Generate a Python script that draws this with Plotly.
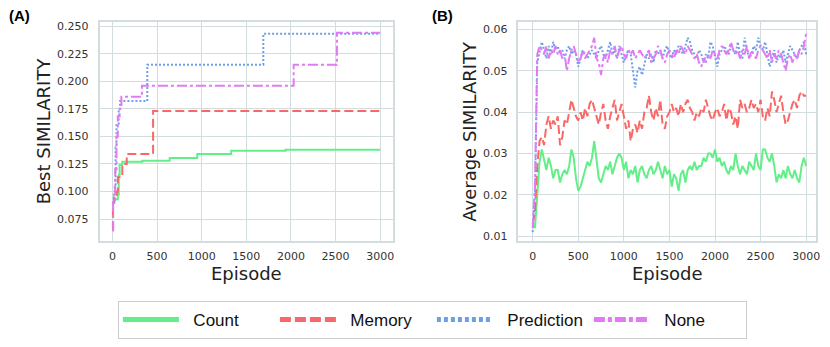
import plotly.graph_objects as go

# ---------------------------------------------------------------------------
# Data
# ---------------------------------------------------------------------------
SERIES = ["Count", "Memory", "Prediction", "None"]
COLORS = {"Count": "#63ef88", "Memory": "#f96866", "Prediction": "#6f9ee8", "None": "#e27af5"}
DASHES = {"Count": "solid", "Memory": "9px,4px", "Prediction": "2px,2px", "None": "10px,3px,3px,3px"}

# (A) best similarity so far (step curves)
best_count_x = [5, 20, 60, 70, 80, 110, 335, 641, 950, 1330, 1938, 3000]
best_count_y = [0.090, 0.093, 0.097, 0.115, 0.124, 0.127, 0.128, 0.1305, 0.134, 0.137, 0.138, 0.138]
best_memory_x = [0, 5, 20, 50, 60, 110, 160, 455, 3000]
best_memory_y = [0.065, 0.090, 0.095, 0.100, 0.113, 0.125, 0.134, 0.173, 0.173]
best_pred_x = [5, 15, 25, 35, 45, 70, 85, 390, 1690, 3000]
best_pred_y = [0.090, 0.097, 0.105, 0.140, 0.160, 0.175, 0.182, 0.215, 0.243, 0.243]
best_none_x = [0, 8, 30, 45, 60, 80, 100, 330, 2030, 2515, 3000]
best_none_y = [0.065, 0.090, 0.120, 0.150, 0.168, 0.175, 0.186, 0.196, 0.215, 0.244, 0.244]

# (B) average similarity, sampled every 25 episodes
episodes = list(range(0, 3001, 25))
avg_count = [
    0.013, 0.012, 0.020, 0.028, 0.031, 0.028, 0.026, 0.029, 0.027, 0.024, 0.026, 0.026, 0.023, 0.025, 0.026, 0.025,
    0.027, 0.031, 0.029, 0.024, 0.021, 0.022, 0.024, 0.026, 0.028, 0.027, 0.029, 0.033, 0.028, 0.024, 0.023, 0.025,
    0.027, 0.026, 0.028, 0.025, 0.027, 0.029, 0.030, 0.029, 0.026, 0.028, 0.024, 0.026, 0.025, 0.027, 0.023, 0.026,
    0.027, 0.025, 0.024, 0.026, 0.027, 0.025, 0.026, 0.028, 0.026, 0.024, 0.027, 0.025, 0.026, 0.022, 0.025, 0.024,
    0.021, 0.025, 0.026, 0.023, 0.026, 0.027, 0.026, 0.028, 0.026, 0.027, 0.027, 0.029, 0.028, 0.030, 0.030, 0.029,
    0.031, 0.028, 0.029, 0.027, 0.028, 0.026, 0.025, 0.027, 0.026, 0.030, 0.027, 0.025, 0.027, 0.026, 0.025, 0.028,
    0.027, 0.026, 0.030, 0.027, 0.026, 0.031, 0.031, 0.029, 0.028, 0.030, 0.027, 0.023, 0.025, 0.024, 0.026, 0.024,
    0.027, 0.025, 0.024, 0.026, 0.024, 0.023, 0.027, 0.029, 0.027,
]
avg_memory = [
    0.013, 0.016, 0.027, 0.033, 0.034, 0.032, 0.037, 0.039, 0.036, 0.038, 0.037, 0.039, 0.032, 0.034, 0.038, 0.037,
    0.040, 0.043, 0.041, 0.039, 0.038, 0.040, 0.038, 0.041, 0.039, 0.042, 0.043, 0.041, 0.039, 0.037, 0.040, 0.042,
    0.038, 0.036, 0.039, 0.041, 0.043, 0.038, 0.040, 0.042, 0.039, 0.036, 0.038, 0.033, 0.036, 0.037, 0.035, 0.038,
    0.036, 0.040, 0.041, 0.044, 0.040, 0.038, 0.041, 0.039, 0.043, 0.037, 0.036, 0.039, 0.040, 0.042, 0.040, 0.041,
    0.039, 0.042, 0.040, 0.042, 0.043, 0.041, 0.040, 0.038, 0.040, 0.039, 0.041, 0.040, 0.043, 0.041, 0.039, 0.038,
    0.040, 0.041, 0.039, 0.040, 0.042, 0.038, 0.041, 0.040, 0.037, 0.039, 0.036, 0.043, 0.041, 0.042, 0.040, 0.041,
    0.043, 0.041, 0.042, 0.040, 0.043, 0.039, 0.038, 0.041, 0.039, 0.045, 0.043, 0.040, 0.042, 0.044, 0.040, 0.037,
    0.038, 0.040, 0.042, 0.043, 0.041, 0.044, 0.045, 0.044, 0.044,
]
avg_pred = [
    0.011, 0.020, 0.052, 0.055, 0.057, 0.055, 0.053, 0.056, 0.054, 0.057, 0.055, 0.056, 0.054, 0.055, 0.053, 0.055,
    0.056, 0.054, 0.055, 0.054, 0.051, 0.053, 0.055, 0.054, 0.053, 0.054, 0.055, 0.054, 0.053, 0.055, 0.056, 0.054,
    0.053, 0.055, 0.057, 0.054, 0.055, 0.053, 0.056, 0.054, 0.052, 0.054, 0.055, 0.054, 0.050, 0.046, 0.050, 0.051,
    0.049, 0.052, 0.054, 0.053, 0.054, 0.052, 0.055, 0.054, 0.055, 0.053, 0.055, 0.056, 0.054, 0.053, 0.055, 0.054,
    0.056, 0.055, 0.054, 0.056, 0.058, 0.057, 0.055, 0.054, 0.053, 0.055, 0.054, 0.052, 0.054, 0.053, 0.057, 0.056,
    0.053, 0.051, 0.054, 0.055, 0.056, 0.055, 0.054, 0.056, 0.055, 0.054, 0.057, 0.054, 0.053, 0.058, 0.055, 0.053,
    0.054, 0.056, 0.055, 0.058, 0.056, 0.055, 0.057, 0.054, 0.051, 0.053, 0.055, 0.052, 0.054, 0.053, 0.055, 0.052,
    0.054, 0.056, 0.055, 0.054, 0.053, 0.055, 0.056, 0.057, 0.054,
]
avg_none = [
    0.012, 0.022, 0.054, 0.056, 0.055, 0.054, 0.056, 0.053, 0.055, 0.054, 0.056, 0.054, 0.055, 0.053, 0.054, 0.050,
    0.053, 0.055, 0.056, 0.054, 0.052, 0.053, 0.055, 0.053, 0.054, 0.055, 0.056, 0.058, 0.053, 0.052, 0.049, 0.053,
    0.054, 0.052, 0.055, 0.054, 0.056, 0.053, 0.055, 0.056, 0.054, 0.053, 0.055, 0.054, 0.055, 0.053, 0.054, 0.055,
    0.054, 0.053, 0.054, 0.055, 0.052, 0.053, 0.054, 0.056, 0.055, 0.053, 0.052, 0.054, 0.055, 0.054, 0.053, 0.055,
    0.054, 0.056, 0.055, 0.054, 0.056, 0.055, 0.054, 0.053, 0.054, 0.052, 0.051, 0.053, 0.052, 0.054, 0.053, 0.055,
    0.054, 0.053, 0.055, 0.056, 0.055, 0.054, 0.055, 0.057, 0.055, 0.054, 0.055, 0.053, 0.055, 0.054, 0.056, 0.053,
    0.055, 0.054, 0.053, 0.055, 0.056, 0.055, 0.054, 0.053, 0.055, 0.052, 0.054, 0.053, 0.055, 0.054, 0.052, 0.050,
    0.053, 0.054, 0.052, 0.054, 0.053, 0.055, 0.054, 0.056, 0.059,
]

best = {
    "Count": (best_count_x, best_count_y),
    "Memory": (best_memory_x, best_memory_y),
    "Prediction": (best_pred_x, best_pred_y),
    "None": (best_none_x, best_none_y),
}
avg = {"Count": avg_count, "Memory": avg_memory, "Prediction": avg_pred, "None": avg_none}

# ---------------------------------------------------------------------------
# Figure
# ---------------------------------------------------------------------------
GRID = "#d3dcdf"
TICK_FONT = dict(family="DejaVu Sans", size=11, color="#333333")
TITLE_FONT = dict(family="DejaVu Sans", size=18, color="#222222")

fig = go.Figure()
for name in SERIES:
    bx, by = best[name]
    fig.add_trace(go.Scatter(
        x=bx, y=by, mode="lines", line_shape="hv", name=name, legendgroup=name,
        line=dict(color=COLORS[name], dash=DASHES[name], width=2), xaxis="x", yaxis="y",
        showlegend=False,
    ))
for name in SERIES:
    fig.add_trace(go.Scatter(
        x=episodes, y=avg[name], mode="lines", name=name, legendgroup=name,
        line=dict(color=COLORS[name], dash=DASHES[name], width=2), xaxis="x2", yaxis="y2",
        showlegend=False,
    ))
# legend-only entries with thicker lines, like the reference key
LEGEND_DASHES = {"Count": "solid", "Memory": "11px,4px", "Prediction": "4px,3px", "None": "11px,3px,4px,3px"}
for name in SERIES:
    fig.add_trace(go.Scatter(
        x=[None], y=[None], mode="lines", name="\u00a0\u00a0" + name, legendgroup=name,
        line=dict(color=COLORS[name], dash=LEGEND_DASHES[name], width=5), xaxis="x", yaxis="y",
    ))

axis_common = dict(
    showgrid=True, gridcolor=GRID, gridwidth=1.2, showline=True, linecolor=GRID, linewidth=1.5,
    mirror=True, zeroline=False, ticks="", tickfont=TICK_FONT,
)

fig.update_layout(
    width=830, height=347,
    margin=dict(l=0, r=0, t=0, b=0),
    paper_bgcolor="white", plot_bgcolor="white",
    xaxis=dict(domain=[0.1205, 0.476], range=[-145, 3145], tickvals=[0, 500, 1000, 1500, 2000, 2500, 3000],
               title=dict(text="Episode", standoff=2, font=TITLE_FONT),
               ticklabelstandoff=4, anchor="y", **axis_common),
    yaxis=dict(domain=[0.3026, 0.9424], range=[0.055, 0.2539],
               tickvals=[0.075, 0.1, 0.125, 0.15, 0.175, 0.2, 0.225, 0.25], tickformat=".3f",
               title=dict(text="Best SIMILARITY", standoff=2, font=TITLE_FONT),
               ticklabelstandoff=7, anchor="x", **axis_common),
    xaxis2=dict(domain=[0.6277, 0.988], range=[-156, 3109], tickvals=[0, 500, 1000, 1500, 2000, 2500, 3000],
                title=dict(text="Episode", standoff=2, font=TITLE_FONT),
                ticklabelstandoff=4, anchor="y2", **axis_common),
    yaxis2=dict(domain=[0.3026, 0.9404], range=[0.0088, 0.0617],
                tickvals=[0.01, 0.02, 0.03, 0.04, 0.05, 0.06], tickformat=".2f",
                title=dict(text="Average SIMILARITY", standoff=2, font=TITLE_FONT),
                ticklabelstandoff=7, anchor="x2", **axis_common),
    legend=dict(
        orientation="h", x=0.5235, xanchor="center", y=0.018, yanchor="bottom",
        bordercolor="#cccccc", borderwidth=1, bgcolor="white",
        font=dict(family="Liberation Sans", size=17, color="#111111"),
        entrywidth=86, itemwidth=56,
    ),
    annotations=[
        dict(text="<b>(A)</b>", x=0.009, y=0.96, xref="paper", yref="paper", xanchor="left", yanchor="middle",
             showarrow=False, font=dict(family="Liberation Sans", size=15, color="black")),
        dict(text="<b>(B)</b>", x=0.52, y=0.96, xref="paper", yref="paper", xanchor="left", yanchor="middle",
             showarrow=False, font=dict(family="Liberation Sans", size=15, color="black")),
    ],
)

fig.write_html("out.html", config={"displayModeBar": False},
               post_script="document.body.style.margin='0';")
